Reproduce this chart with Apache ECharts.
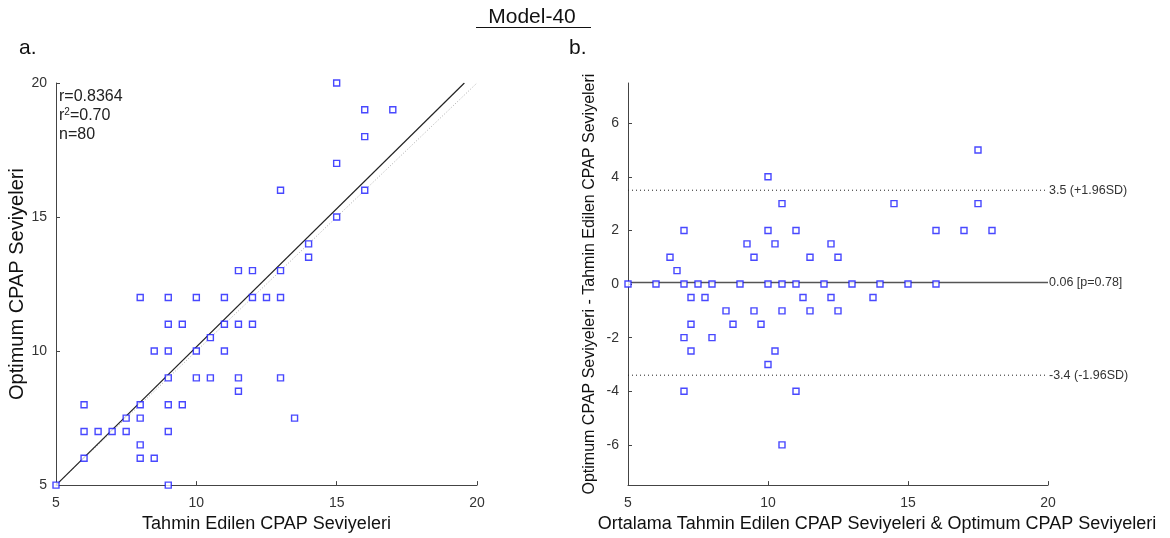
<!DOCTYPE html>
<html>
<head>
<meta charset="utf-8">
<script src="https://cdn.jsdelivr.net/npm/echarts@6/dist/echarts.min.js"></script>
<style>
  html, body { margin: 0; padding: 0; background: #fff; }
  #chart { width: 1170px; height: 538px; }
</style>
</head>
<body>
<div id="chart"></div>
<script>
// Panel a: predicted vs optimum CPAP levels
const predictedLevels = [15, 16, 17, 16, 15, 13, 16, 15, 14, 14, 11.5, 12, 13,
  8, 9, 10, 11, 12, 12.5, 13, 9, 9.5, 11, 11.5, 12, 10.5, 8.5, 9, 10, 11,
  9, 10, 10.5, 11.5, 13, 11.5, 6, 8, 9, 9.5, 7.5, 8, 13.5,
  6, 6.5, 7, 7.5, 9, 8, 6, 8, 8.5, 5, 9];
const optimumLevels = [20, 19, 19, 18, 17, 16, 16, 15, 14, 13.5, 13, 13, 13,
  12, 12, 12, 12, 12, 12, 12, 11, 11, 11, 11, 11, 10.5, 10, 10, 10, 10,
  9, 9, 9, 9, 9, 8.5, 8, 8, 8, 8, 7.5, 7.5, 7.5,
  7, 7, 7, 7, 7, 6.5, 6, 6, 6, 5, 5];
const fitLine = [[5, 5], [19.55, 20]];
const identityLine = [[5, 5], [20, 20]];
const statR = '0.8364';
const statR2 = '0.70';
const statN = 80;

// Panel b: Bland-Altman (mean of both levels vs. difference)
const meanLevels = [17.5, 10, 10.5, 14.5, 17.5, 7, 10, 11, 16, 17, 18,
  9.25, 10.25, 12.25, 6.5, 9.5, 11.5, 12.5, 6.75,
  5, 6, 7, 7.5, 8, 9, 10, 10.5, 11, 12, 13, 14, 15, 16,
  7.25, 7.75, 11.25, 12.25, 13.75, 8.5, 9.5, 10.5, 11.5, 12.5,
  7.25, 8.75, 9.75, 7, 8, 7.25, 10.25, 10, 7, 11, 10.5];
const levelDiffs = [5, 4, 3, 3, 3, 2, 2, 2, 2, 2, 2,
  1.5, 1.5, 1.5, 1, 1, 1, 1, 0.5,
  0, 0, 0, 0, 0, 0, 0, 0, 0, 0, 0, 0, 0, 0,
  -0.5, -0.5, -0.5, -0.5, -0.5, -1, -1, -1, -1, -1,
  -1.5, -1.5, -1.5, -2, -2, -2.5, -2.5, -3, -4, -4, -6];
const meanDiff = 0.06;
const pValue = 0.78;
const upperLoa = 3.5;
const lowerLoa = -3.4;
const diffTicks = [-6, -4, -2, 0, 2, 4, 6];

const FONT = 'Liberation Sans, Arial, sans-serif';
const BLUE = '#1a1aff';

const pairs = (xs, ys) => xs.map((x, i) => [x, ys[i]]);

const axisCommon = {
  axisLine: { show: true, onZero: false, lineStyle: { color: '#444', width: 1 } },
  axisTick: { show: true, inside: true, length: 4, lineStyle: { color: '#444' } },
  splitLine: { show: false },
  axisLabel: { color: '#333', fontSize: 14, fontFamily: FONT },
  nameTextStyle: { color: '#111', fontSize: 18, fontFamily: FONT },
  nameLocation: 'middle'
};

const markerStyle = {
  type: 'scatter',
  symbol: 'rect',
  symbolSize: 6,
  itemStyle: { color: '#fff', borderColor: BLUE, borderWidth: 1.4 },
  z: 5,
  silent: true
};

function limitLine(value, text, dotted) {
  return {
    type: 'line',
    xAxisIndex: 1, yAxisIndex: 1,
    data: [[5, value], [20, value]],
    symbol: 'none',
    lineStyle: dotted
      ? { color: '#222', width: 1, type: [1, 3] }
      : { color: '#555', width: 1.6 },
    endLabel: {
      show: true, distance: 1,
      formatter: () => text,
      color: '#333', fontSize: 12.5, fontFamily: FONT
    },
    z: 2, silent: true, animation: false
  };
}

const chart = echarts.init(document.getElementById('chart'), null, { renderer: 'canvas' });
chart.setOption({
  animation: false,
  backgroundColor: '#fff',
  grid: [
    { left: 56, top: 83, width: 421, height: 404 },
    { left: 628, top: 83, width: 420, height: 404 }
  ],
  xAxis: [
    Object.assign({}, axisCommon, {
      gridIndex: 0, type: 'value', min: 5, max: 20, interval: 5,
      name: 'Tahmin Edilen CPAP Seviyeleri', nameGap: 26,
      axisLabel: Object.assign({}, axisCommon.axisLabel, { margin: 11 })
    }),
    Object.assign({}, axisCommon, {
      gridIndex: 1, type: 'value', min: 5, max: 20, interval: 5,
      name: 'Ortalama Tahmin Edilen CPAP Seviyeleri & Optimum CPAP Seviyeleri', nameGap: 26,
      nameTextStyle: Object.assign({}, axisCommon.nameTextStyle, { padding: [0, 0, 0, 78] }),
      axisLabel: Object.assign({}, axisCommon.axisLabel, { margin: 11 })
    })
  ],
  yAxis: [
    Object.assign({}, axisCommon, {
      gridIndex: 0, type: 'value', min: 5, max: 20, interval: 5,
      name: 'Optimum CPAP Seviyeleri', nameGap: 29,
      nameTextStyle: Object.assign({}, axisCommon.nameTextStyle, { fontSize: 20 }),
      axisLabel: Object.assign({}, axisCommon.axisLabel, { margin: 9 })
    }),
    Object.assign({}, axisCommon, {
      gridIndex: 1, type: 'value', min: -7.5, max: 7.5,
      name: 'Optimum CPAP Seviyeleri - Tahmin Edilen CPAP Seviyeleri', nameGap: 30,
      nameTextStyle: Object.assign({}, axisCommon.nameTextStyle, { fontSize: 16 }),
      axisTick: Object.assign({}, axisCommon.axisTick, { customValues: diffTicks }),
      axisLabel: Object.assign({}, axisCommon.axisLabel, { margin: 9, customValues: diffTicks })
    })
  ],
  series: [
    {
      type: 'line', xAxisIndex: 0, yAxisIndex: 0, data: identityLine,
      symbol: 'none', lineStyle: { color: '#aaa', width: 1, type: [1, 2] }, z: 1, silent: true
    },
    {
      type: 'line', xAxisIndex: 0, yAxisIndex: 0, data: fitLine,
      symbol: 'none', lineStyle: { color: '#222', width: 1.2 }, z: 2, silent: true
    },
    Object.assign({}, markerStyle, { xAxisIndex: 0, yAxisIndex: 0, data: pairs(predictedLevels, optimumLevels) }),
    limitLine(upperLoa, upperLoa + ' (+1.96SD)', true),
    limitLine(meanDiff, meanDiff + ' [p=' + pValue + ']', false),
    limitLine(lowerLoa, lowerLoa + ' (-1.96SD)', true),
    Object.assign({}, markerStyle, { xAxisIndex: 1, yAxisIndex: 1, data: pairs(meanLevels, levelDiffs) })
  ],
  graphic: [
    {
      type: 'text', z: 10, x: 532, y: 17,
      style: { text: 'Model-40', font: '21px ' + FONT, fill: '#111', align: 'center', verticalAlign: 'middle' }
    },
    {
      type: 'line', z: 10,
      shape: { x1: 476, y1: 27.5, x2: 591, y2: 27.5 },
      style: { stroke: '#111', lineWidth: 1 }
    },
    {
      type: 'text', z: 10, x: 19, y: 48,
      style: { text: 'a.', font: '21px ' + FONT, fill: '#111', verticalAlign: 'middle' }
    },
    {
      type: 'text', z: 10, x: 569, y: 48,
      style: { text: 'b.', font: '21px ' + FONT, fill: '#111', verticalAlign: 'middle' }
    },
    {
      type: 'text', z: 10, x: 59, y: 97,
      style: { text: 'r=' + statR, font: '16px ' + FONT, fill: '#222', verticalAlign: 'middle' }
    },
    {
      type: 'text', z: 10, x: 59, y: 116,
      style: {
        text: 'r{sup|2}=' + statR2,
        font: '16px ' + FONT, fill: '#222', verticalAlign: 'middle',
        rich: { sup: { fontSize: 10, verticalAlign: 'top', padding: [0, 0, 7, 0], fontFamily: FONT, fill: '#222' } }
      }
    },
    {
      type: 'text', z: 10, x: 59, y: 135,
      style: { text: 'n=' + statN, font: '16px ' + FONT, fill: '#222', verticalAlign: 'middle' }
    }
  ]
});
</script>
</body>
</html>
